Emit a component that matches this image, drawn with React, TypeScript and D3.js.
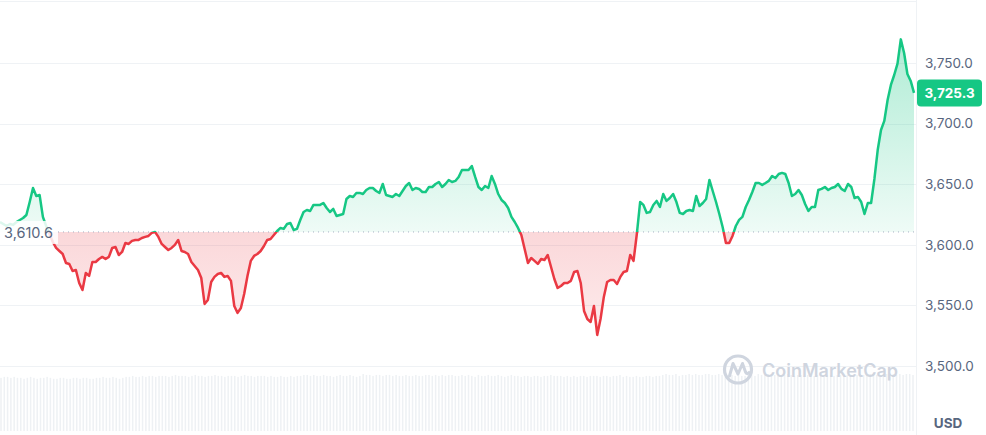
import React from "react";
import * as d3 from "d3";

const prices: number[] = [
  3618.8, 3617.2, 3615.5, 3617.2, 3616.4, 3618.8, 3620.5, 3622.1, 3624.6, 3635.3,
  3646.9, 3640.3, 3641.1, 3623.0, 3615.5, 3608.9, 3602.3, 3597.4, 3594.9, 3592.4,
  3585.0, 3584.2, 3578.4, 3579.2, 3568.5, 3562.7, 3576.8, 3574.3, 3585.8, 3585.8,
  3588.3, 3590.0, 3588.3, 3590.0, 3597.4, 3598.2, 3591.6, 3594.1, 3601.5, 3600.7,
  3603.2, 3604.0, 3604.0, 3605.6, 3606.5, 3607.3, 3609.8, 3610.6, 3606.5, 3600.7,
  3598.2, 3595.7, 3597.4, 3599.9, 3604.0, 3594.9, 3594.1, 3592.4, 3585.8, 3582.5,
  3579.2, 3572.6, 3551.2, 3554.5, 3569.3, 3573.5, 3575.9, 3576.8, 3573.5, 3574.3,
  3570.2, 3549.5, 3543.8, 3547.9, 3559.4, 3574.3, 3586.7, 3590.8, 3592.4, 3594.9,
  3599.0, 3604.0, 3604.8, 3608.1, 3611.4, 3613.9, 3613.1, 3617.2, 3618.0, 3612.2,
  3613.1, 3620.5, 3627.1, 3628.7, 3627.9, 3632.9, 3632.9, 3632.9, 3634.5, 3630.4,
  3627.1, 3629.6, 3623.8, 3624.6, 3625.4, 3637.8, 3640.3, 3639.5, 3642.8, 3642.8,
  3641.9, 3645.2, 3646.9, 3646.9, 3644.4, 3642.8, 3650.2, 3641.1, 3640.3, 3639.5,
  3641.9, 3640.3, 3644.4, 3648.5, 3651.0, 3645.2, 3646.9, 3646.1, 3643.6, 3643.6,
  3647.7, 3647.7, 3650.2, 3651.8, 3647.7, 3650.2, 3653.5, 3651.8, 3652.7, 3656.0,
  3661.7, 3661.7, 3661.7, 3665.0, 3656.0, 3647.7, 3645.2, 3648.5, 3646.9, 3656.8,
  3650.2, 3641.9, 3637.0, 3634.5, 3630.4, 3623.0, 3618.8, 3613.9, 3608.1, 3596.6,
  3585.0, 3589.1, 3586.7, 3584.2, 3588.3, 3587.5, 3591.6, 3581.7, 3571.8, 3564.4,
  3566.0, 3568.5, 3568.5, 3570.2, 3577.6, 3578.4, 3568.5, 3545.4, 3538.8, 3536.3,
  3549.5, 3525.6, 3538.8, 3557.0, 3569.3, 3571.0, 3571.0, 3567.7, 3573.5, 3577.6,
  3578.4, 3591.6, 3586.7, 3608.9, 3635.3, 3632.9, 3626.3, 3627.1, 3632.9, 3636.2,
  3631.2, 3641.9, 3636.2, 3638.6, 3641.9, 3635.3, 3626.3, 3625.4, 3627.9, 3628.7,
  3627.9, 3640.3, 3632.0, 3634.5, 3637.8, 3653.5, 3644.4, 3635.3, 3625.4, 3614.7,
  3601.5, 3601.5, 3607.3, 3615.5, 3620.5, 3623.0, 3631.2, 3637.0, 3643.6, 3651.0,
  3651.0, 3649.4, 3651.0, 3652.7, 3656.8, 3655.1, 3658.4, 3659.3, 3658.4, 3651.0,
  3640.3, 3641.9, 3645.2, 3641.1, 3633.7, 3627.9, 3631.2, 3631.2, 3645.2, 3646.1,
  3647.7, 3645.2, 3646.9, 3647.7, 3650.2, 3646.1, 3644.4, 3650.2, 3647.7, 3638.6,
  3639.5, 3635.3, 3625.4, 3634.5, 3634.5, 3654.3, 3678.2, 3694.7, 3702.2, 3719.5,
  3731.9, 3740.1, 3749.5, 3769.5, 3758.3, 3740.9, 3735.2, 3725.3,
];

const volumes: number[] = [
  55, 56, 56, 55, 56, 55, 55, 54, 55, 56, 55, 54, 55, 55, 56, 55, 54, 54, 55, 55,
  54, 54, 55, 55, 54, 55, 55, 54, 54, 55, 55, 56, 55, 55, 56, 55, 54, 55, 56, 56,
  57, 56, 56, 57, 56, 57, 57, 56, 57, 57, 57, 56, 57, 58, 57, 57, 57, 56, 57, 58,
  57, 57, 56, 57, 57, 58, 57, 57, 56, 57, 57, 57, 56, 57, 58, 57, 57, 56, 57, 57,
  57, 56, 57, 56, 56, 57, 56, 56, 57, 56, 57, 57, 58, 58, 57, 58, 57, 57, 58, 57,
  57, 56, 57, 58, 57, 57, 58, 57, 56, 57, 59, 58, 58, 57, 58, 58, 57, 58, 58, 57,
  58, 57, 57, 58, 57, 57, 58, 57, 57, 58, 58, 57, 58, 57, 58, 57, 58, 58, 57, 57,
  58, 57, 58, 57, 56, 58, 57, 57, 58, 57, 57, 58, 57, 56, 57, 58, 57, 57, 56, 57,
  57, 56, 57, 57, 56, 57, 57, 58, 57, 57, 57, 56, 57, 56, 57, 56, 57, 57, 56, 57,
  57, 57, 56, 57, 57, 56, 57, 57, 58, 56, 57, 56, 56, 57, 56, 56, 57, 57, 56, 57,
  57, 58, 59, 58, 58, 59, 57, 58, 58, 59, 58, 59, 58, 58, 59, 59, 58, 58, 59, 58,
  58, 57, 58, 57, 58, 57, 57, 58, 58, 57, 59, 58, 58, 59, 58, 58, 57, 58, 58, 59,
  58, 57, 58, 58, 57, 58, 58, 57, 58, 58, 57, 58, 58, 57, 58, 58, 57, 58, 57, 58,
  58, 59, 58, 58, 59, 59, 58, 58, 59, 59, 58, 59, 58, 59, 58, 59, 59, 58,
];

const yTicks: number[] = [3500, 3550, 3600, 3650, 3700, 3750];
const openPrice = 3610.6;
const lastPrice = 3725.3;
const currency = "USD";
const watermark = "CoinMarketCap";

const W = 986;
const H = 435;
const plotRight = 916;
const GREEN = "#16c784";
const RED = "#ea3943";
const GRID = "#eff2f5";
const LABEL = "#58667e";
const FONT = "Inter, 'Noto Sans', sans-serif";

export default function App() {
  const x = d3.scaleLinear().domain([0, prices.length - 1]).range([0, 914]);
  const y = d3.scaleLinear().domain([3500, 3750]).range([366, 63]);
  const vx = d3.scaleLinear().domain([0, volumes.length - 1]).range([1, 913]);
  const vh = d3.scaleLinear().domain([0, 60]).range([0, 58]);
  const volBottom = 431;

  const base = y(openPrice);
  const line = d3
    .line<number>()
    .x((_, i) => x(i))
    .y((d) => y(d))
    .curve(d3.curveLinear);
  const area = d3
    .area<number>()
    .x((_, i) => x(i))
    .y0(base)
    .y1((d) => y(d))
    .curve(d3.curveLinear);
  const linePath = line(prices) || "";
  const areaPath = area(prices) || "";
  const fmt = d3.format(",.1f");
  const minY = y(d3.max(prices) as number);
  const maxY = y(d3.min(prices) as number);

  return (
    <svg
      width={W}
      height={H}
      style={{ position: "fixed", left: 0, top: 0, background: "#fff" }}
      fontFamily={FONT}
    >
      <defs>
        <clipPath id="above">
          <rect x={0} y={0} width={plotRight} height={base} />
        </clipPath>
        <clipPath id="below">
          <rect x={0} y={base} width={plotRight} height={H - base} />
        </clipPath>
        <linearGradient id="gGreen" x1="0" y1={minY} x2="0" y2={base} gradientUnits="userSpaceOnUse">
          <stop offset="0" stopColor={GREEN} stopOpacity={0.34} />
          <stop offset="1" stopColor={GREEN} stopOpacity={0.07} />
        </linearGradient>
        <linearGradient id="gRed" x1="0" y1={base} x2="0" y2={maxY} gradientUnits="userSpaceOnUse">
          <stop offset="0" stopColor={RED} stopOpacity={0.2} />
          <stop offset="1" stopColor={RED} stopOpacity={0.1} />
        </linearGradient>
      </defs>

      {/* frame */}
      <line x1={0} x2={plotRight} y1={1.5} y2={1.5} stroke={GRID} strokeWidth={1} />
      <line x1={plotRight + 0.5} x2={plotRight + 0.5} y1={0} y2={H} stroke={GRID} strokeWidth={1} />

      {/* grid */}
      {yTicks.map((t) => (
        <line key={t} x1={0} x2={plotRight} y1={Math.round(y(t)) + 0.5} y2={Math.round(y(t)) + 0.5} stroke={GRID} strokeWidth={1} />
      ))}

      {/* volume bars */}
      {volumes.map((v, i) => (
        <rect key={i} x={vx(i) - 0.75} y={volBottom - vh(v)} width={1.5} height={vh(v)} fill="#eef1f4" />
      ))}

      {/* watermark */}
      <g>
        <circle cx={738} cy={369.5} r={13.5} fill="none" stroke="#cfd5df" strokeWidth={3.2} />
        <path
          d="M729.5,376 L733,363.5 L738,374 L742.5,363.5 L745.5,372 Q747,375 749,372.5"
          fill="none"
          stroke="#cfd5df"
          strokeWidth={3}
          strokeLinecap="round"
          strokeLinejoin="round"
        />
        <text x={762} y={377} fontSize={18} fontWeight={600} fill="#cfd5df">
          {watermark}
        </text>
      </g>

      {/* areas */}
      <path d={areaPath} fill="url(#gGreen)" clipPath="url(#above)" />
      <path d={areaPath} fill="url(#gRed)" clipPath="url(#below)" />

      {/* baseline */}
      <line x1={58} x2={plotRight} y1={base} y2={base} stroke="#a6b0c3" strokeWidth={1} strokeDasharray="1 4" />

      {/* price line */}
      <path d={linePath} fill="none" stroke={GREEN} strokeWidth={2.5} strokeLinejoin="round" clipPath="url(#above)" />
      <path d={linePath} fill="none" stroke={RED} strokeWidth={2.5} strokeLinejoin="round" clipPath="url(#below)" />

      {/* open price label */}
      <rect x={0} y={base - 11} width={58} height={23} fill="#fff" opacity={0.85} />
      <text x={4} y={base + 1} dy="0.35em" fontSize={14.5} fill={LABEL}>
        {fmt(openPrice)}
      </text>

      {/* y axis labels */}
      {yTicks.map((t) => (
        <text key={t} x={925} y={y(t)} dy="0.35em" fontSize={13.5} fill={LABEL}>
          {fmt(t)}
        </text>
      ))}

      {/* last price tag */}
      <rect x={917} y={y(lastPrice) - 13.5} width={65} height={27} rx={4} fill={GREEN} />
      <text x={949.5} y={y(lastPrice)} dy="0.35em" fontSize={13.5} fontWeight={700} fill="#fff" textAnchor="middle">
        {fmt(lastPrice)}
      </text>

      {/* currency */}
      <text x={948} y={423} dy="0.35em" fontSize={13.5} fontWeight={700} fill={LABEL} textAnchor="middle">
        {currency}
      </text>
    </svg>
  );
}
